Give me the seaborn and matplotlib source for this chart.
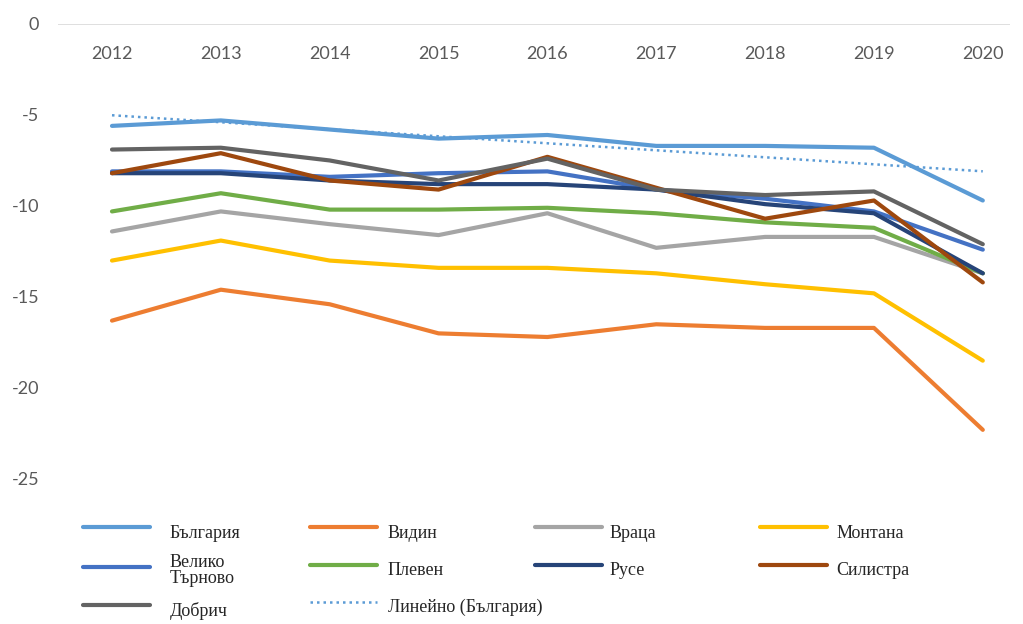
import matplotlib
matplotlib.use("Agg")
import matplotlib.pyplot as plt
import seaborn as sns
import pandas as pd
import numpy as np

# --- values ---
years = [2012, 2013, 2014, 2015, 2016, 2017, 2018, 2019, 2020]
bulgaria = [-5.6, -5.3, -5.8, -6.3, -6.1, -6.7, -6.7, -6.8, -9.7]
vidin = [-16.3, -14.6, -15.4, -17.0, -17.2, -16.5, -16.7, -16.7, -22.3]
vratsa = [-11.4, -10.3, -11.0, -11.6, -10.4, -12.3, -11.7, -11.7, -13.7]
montana = [-13.0, -11.9, -13.0, -13.4, -13.4, -13.7, -14.3, -14.8, -18.5]
veliko_tarnovo = [-8.1, -8.1, -8.4, -8.2, -8.1, -9.1, -9.6, -10.3, -12.4]
pleven = [-10.3, -9.3, -10.2, -10.2, -10.1, -10.4, -10.9, -11.2, -13.7]
ruse = [-8.2, -8.2, -8.6, -8.8, -8.8, -9.1, -9.9, -10.4, -13.7]
silistra = [-8.2, -7.1, -8.6, -9.1, -7.3, -9.0, -10.7, -9.7, -14.2]
dobrich = [-6.9, -6.8, -7.5, -8.6, -7.4, -9.1, -9.4, -9.2, -12.1]

names = ['България', 'Видин', 'Враца', 'Монтана', 'Велико\nТърново',
         'Плевен', 'Русе', 'Силистра', 'Добрич']
series = [bulgaria, vidin, vratsa, montana, veliko_tarnovo,
          pleven, ruse, silistra, dobrich]
colors = ['#5B9BD5', '#ED7D31', '#A5A5A5', '#FFC000', '#4472C4',
          '#70AD47', '#264478', '#9E480E', '#636363']
trend_label = 'Линейно (България)'

df = pd.DataFrame({'Година': years})
for n, s in zip(names, series):
    df[n] = s
long_df = df.melt('Година', var_name='Област', value_name='Стойност')

sns.set_style("white")
plt.rcParams['font.family'] = ['Lato', 'DejaVu Sans']
plt.rcParams['axes.unicode_minus'] = False

fig = plt.figure(figsize=(10.23, 6.24), dpi=100)
ax = fig.add_axes([0.0567, 0.2324, 0.9306, 0.7292])

sns.lineplot(data=long_df, x='Година', y='Стойност', hue='Област',
             palette=dict(zip(names, colors)), linewidth=3.0,
             legend=False, ax=ax, sort=False)

# linear trend of България (Excel "Линейно")
k, b = np.polyfit(years, bulgaria, 1)
trend = [k * y + b for y in years]
sns.lineplot(x=years, y=trend, ax=ax, color='#5B9BD5', linewidth=1.8,
             linestyle=(0, (1, 1.6)), legend=False)

ax.axhline(0, color='#D9D9D9', linewidth=1.2, zorder=0)
ax.set_xlim(2011.504, 2020.25)
ax.set_ylim(-25, 0)
ax.set_yticks([0, -5, -10, -15, -20, -25])
ax.set_xticks(years)
ax.set_xticklabels([str(y) for y in years])
ax.set_xlabel('')
ax.set_ylabel('')
for sp in ax.spines.values():
    sp.set_visible(False)
ax.tick_params(axis='x', top=False, bottom=False, labeltop=True,
               labelbottom=False, pad=-31, labelsize=13, colors='#595959')
ax.tick_params(axis='y', left=False, pad=10, labelsize=13, colors='#595959')

# legend: Excel lays it out in fixed columns, so one legend per column
lines = ax.get_lines()
handles = {n: lines[i] for i, n in enumerate(names)}
handles[trend_label] = lines[len(names)]
columns = [['България', 'Велико\nТърново', 'Добрич'],
           ['Видин', 'Плевен', trend_label],
           ['Враца', 'Русе'],
           ['Монтана', 'Силистра']]
col_x = [83, 310, 535, 760]
text_pad = [1.1, 0.6, 0.45, 0.55]
for labels, x0, tp in zip(columns, col_x, text_pad):
    leg = fig.legend([handles[l] for l in labels], labels, frameon=False,
                     loc='upper left', bbox_to_anchor=(x0 / 1023, 0.171),
                     borderaxespad=0, borderpad=0,
                     handlelength=3.7, handletextpad=tp,
                     handleheight=2.1, labelspacing=0.45,
                     prop={'family': ['Liberation Serif', 'DejaVu Serif'],
                           'size': 13})
    for t in leg.get_texts():
        t.set_color('#262626')
        t.set_linespacing(0.9)

fig.savefig('out.png', dpi=100)
